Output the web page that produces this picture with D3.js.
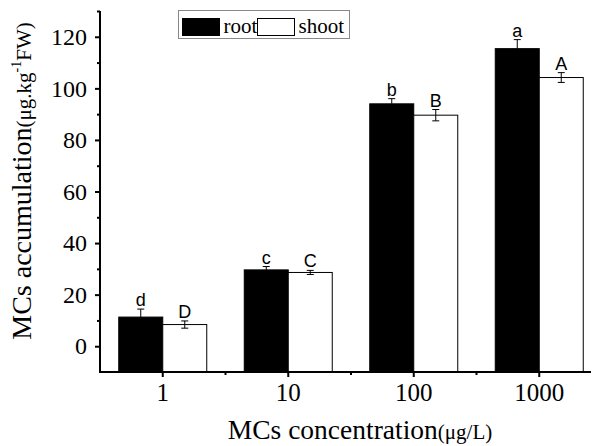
<!DOCTYPE html>
<html>
<head>
<meta charset="utf-8">
<title>MCs accumulation</title>
<script src="https://d3js.org/d3.v7.min.js"></script>
<style>
  body { margin: 0; background: #fff; }
  svg text { fill: #000; }
</style>
</head>
<body>
<div id="chart"></div>
<script>
// data
var concentrations = ["1", "10", "100", "1000"];
var seriesNames = ["root", "shoot"];
var rootValues = [11.3, 29.6, 94.0, 115.4];
var rootErrors = [3.1, 1.3, 2.0, 3.5];
var rootLetters = ["d", "c", "b", "a"];
var shootValues = [8.4, 28.6, 89.6, 104.2];
var shootErrors = [1.4, 0.8, 2.2, 1.9];
var shootLetters = ["D", "C", "B", "A"];
var yMajorTicks = [0, 20, 40, 60, 80, 100, 120];
var yMinorTicks = [10, 30, 50, 70, 90, 110, 130];

var W = 598, H = 446;
var mLeft = 100, mRight = 591, mTop = 11, mBottom = 372;

var svg = d3.select("#chart").append("svg")
    .attr("width", W).attr("height", H);

var x = d3.scaleBand().domain(concentrations).range([mLeft, mLeft + 502]).padding(0);
var inner = d3.scaleBand().domain(seriesNames).range([-44, 44]).padding(0);
var y = d3.scaleLinear().domain([-10, 130]).range([mBottom, mTop]);

// build rows for bars
var rows = [];
concentrations.forEach(function (c, i) {
    rows.push({ cat: c, s: "root", v: rootValues[i], e: rootErrors[i], l: rootLetters[i] });
    rows.push({ cat: c, s: "shoot", v: shootValues[i], e: shootErrors[i], l: shootLetters[i] });
});

var g = svg.append("g");

g.selectAll("rect.bar")
    .data(rows)
    .enter().append("rect")
    .attr("class", "bar")
    .attr("x", function (d) { return x(d.cat) + x.bandwidth() / 2 + inner(d.s); })
    .attr("y", function (d) { return y(d.v); })
    .attr("width", inner.bandwidth())
    .attr("height", function (d) { return y(-10) - y(d.v); })
    .attr("fill", function (d) { return d.s == "root" ? "#000" : "#fff"; })
    .attr("stroke", "#000")
    .attr("stroke-width", 1);

// error bars
var eb = g.selectAll("g.err").data(rows).enter().append("g")
    .attr("class", "err")
    .attr("transform", function (d) {
        return "translate(" + (x(d.cat) + x.bandwidth() / 2 + inner(d.s) + inner.bandwidth() / 2) + ",0)";
    });
eb.append("line")
    .attr("y1", function (d) { return y(d.v + d.e); })
    .attr("y2", function (d) { return d.s == "root" ? y(d.v) : y(d.v - d.e); })
    .attr("stroke", "#000");
eb.append("line")
    .attr("x1", -3.5).attr("x2", 3.5)
    .attr("y1", function (d) { return y(d.v + d.e); })
    .attr("y2", function (d) { return y(d.v + d.e); })
    .attr("stroke", "#000");
eb.filter(function (d) { return d.s == "shoot"; }).append("line")
    .attr("x1", -3.5).attr("x2", 3.5)
    .attr("y1", function (d) { return y(d.v - d.e); })
    .attr("y2", function (d) { return y(d.v - d.e); })
    .attr("stroke", "#000");
eb.append("text")
    .attr("y", function (d) { return y(d.v + d.e) - 3; })
    .attr("text-anchor", "middle")
    .style("font-family", "'Liberation Sans', Arial, sans-serif")
    .style("font-size", "18px")
    .text(function (d) { return d.l; });

// y axis
var yAxis = svg.append("g").attr("transform", "translate(" + mLeft + ",0)")
    .call(d3.axisLeft(y).tickValues(yMajorTicks).tickSize(5).tickPadding(8));
svg.append("g").attr("transform", "translate(" + mLeft + ",0)")
    .call(d3.axisLeft(y).tickValues(yMinorTicks).tickSize(3).tickFormat(""))
    .select(".domain").remove();
yAxis.select(".domain").remove();
svg.append("line").attr("x1", mLeft).attr("x2", mLeft)
    .attr("y1", mTop).attr("y2", mBottom + 1)
    .attr("stroke", "#000").attr("stroke-width", 2);

// x axis
var xAxis = svg.append("g").attr("transform", "translate(0," + mBottom + ")")
    .call(d3.axisBottom(x).tickSize(5).tickPadding(6));
xAxis.select(".domain").remove();
var bounds = concentrations.slice(1).map(function (c) { return x(c); });
svg.append("g").selectAll("line").data(bounds).enter().append("line")
    .attr("x1", function (d) { return d; }).attr("x2", function (d) { return d; })
    .attr("y1", mBottom).attr("y2", mBottom + 3)
    .attr("stroke", "#000").attr("stroke-width", 2);
svg.append("line").attr("x1", mLeft - 1).attr("x2", mRight)
    .attr("y1", mBottom).attr("y2", mBottom)
    .attr("stroke", "#000").attr("stroke-width", 2);

svg.selectAll(".tick line").attr("stroke-width", 2);
svg.selectAll(".tick text")
    .style("font-family", "'Liberation Serif', 'Times New Roman', serif")
    .style("font-size", "24px");
xAxis.selectAll(".tick text").style("font-size", "25px");

// axis titles
var serif = "'Liberation Serif', 'Times New Roman', serif";
var yt = svg.append("text")
    .attr("transform", "translate(31,181) rotate(-90)")
    .attr("text-anchor", "middle")
    .style("font-family", serif)
    .style("font-size", "28px");
yt.append("tspan").text("MCs accumulation");
yt.append("tspan").style("font-size", "21px").text("(\u03bcg.kg");
yt.append("tspan").style("font-size", "14px").attr("dy", -10).text("-1");
yt.append("tspan").style("font-size", "21px").attr("dy", 10).text("FW)");

var xt = svg.append("text")
    .attr("x", 360).attr("y", 439)
    .attr("text-anchor", "middle")
    .style("font-family", serif)
    .style("font-size", "27.5px");
xt.append("tspan").text("MCs concentration");
xt.append("tspan").style("font-size", "21px").text("(\u03bcg/L)");

// legend
var lg = svg.append("g");
lg.append("rect").attr("x", 178.5).attr("y", 10.5).attr("width", 171).attr("height", 28)
    .attr("fill", "#fff").attr("stroke", "#888").attr("stroke-width", 1);
var legendX = [182.5, 257.5];
seriesNames.forEach(function (s, i) {
    lg.append("rect").attr("x", legendX[i]).attr("y", 18.5).attr("width", 37).attr("height", 17)
        .attr("fill", s == "root" ? "#000" : "#fff").attr("stroke", "#000");
    lg.append("text").attr("x", legendX[i] + 41).attr("y", 33)
        .style("font-family", serif).style("font-size", "21px").text(s);
});
</script>
</body>
</html>
